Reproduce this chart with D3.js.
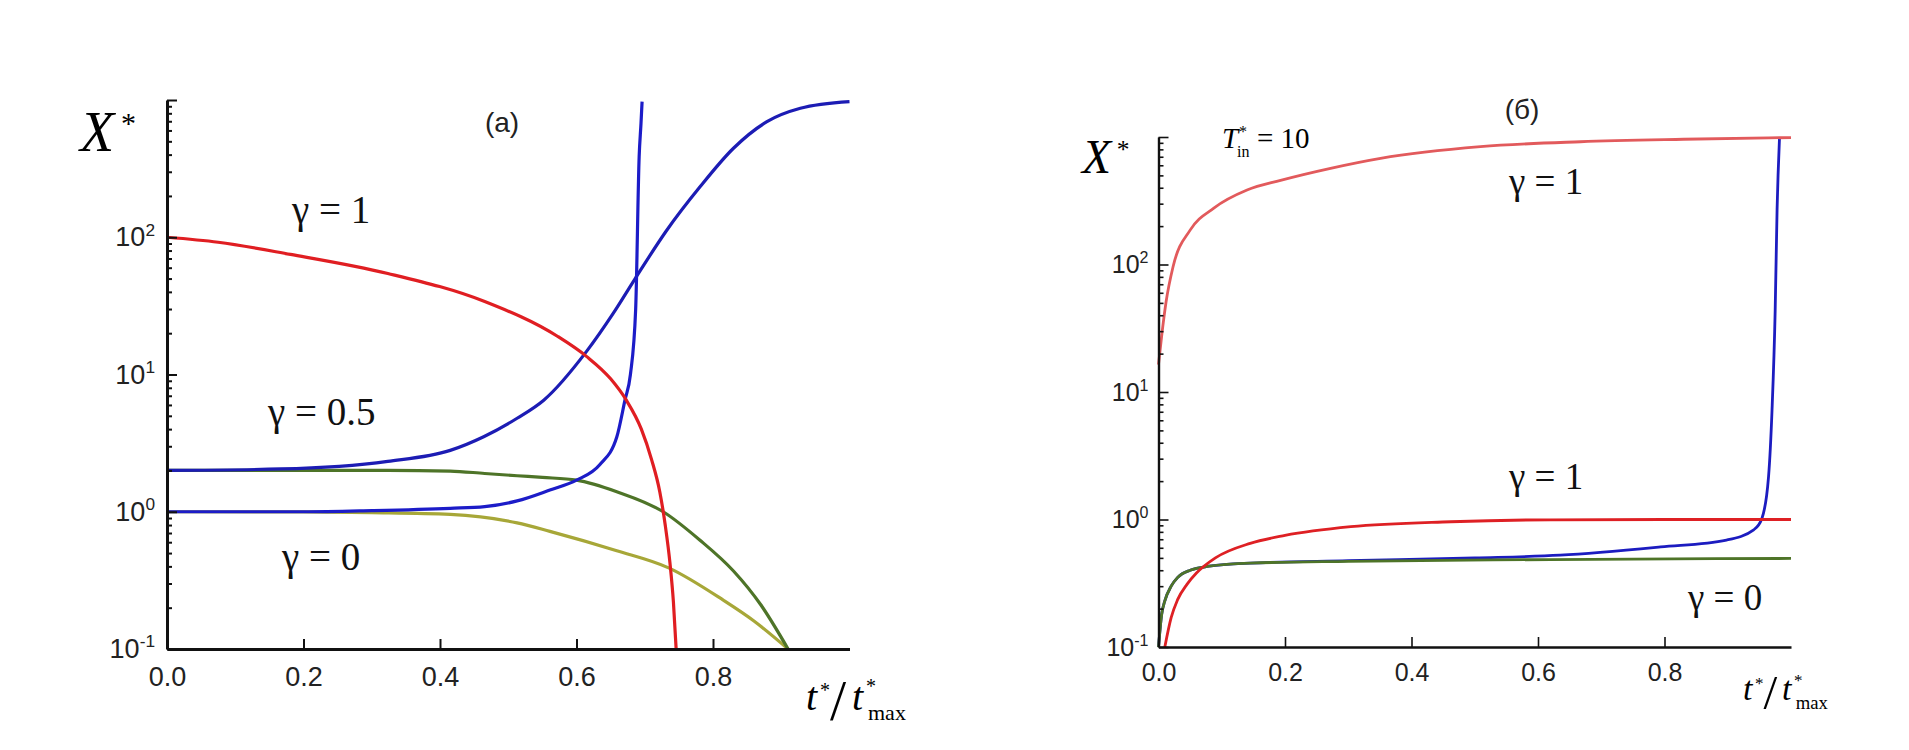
<!DOCTYPE html>
<html>
<head>
<meta charset="utf-8">
<script src="https://cdn.jsdelivr.net/npm/d3@7"></script>
<style>
  body { margin: 0; background: #fff; }
</style>
</head>
<body>
<div id="chart"></div>
<script>
// ---- data: t*/t*max and X* ----
// panel (a)
var tA_red = [0, 0.075, 0.181, 0.3235, 0.4655, 0.572, 0.615, 0.65, 0.673, 0.695, 0.71, 0.722, 0.73, 0.737, 0.742, 0.746];
var xA_red = [100, 92, 75, 54.5, 34, 19, 13.5, 9.3, 6.5, 4.0, 2.4, 1.4, 0.8, 0.42, 0.22, 0.1];

var tA_blueSteep = [0, 0.2, 0.3, 0.415, 0.4655, 0.513, 0.561, 0.6, 0.634, 0.659, 0.671, 0.679, 0.6867, 0.6918, 0.6945, 0.6961];
var xA_blueSteep = [1.0, 1.0, 1.02, 1.06, 1.09, 1.2, 1.44, 1.70, 2.2, 3.5, 6.5, 10, 30, 386, 676, 973];

var tA_blueS = [0, 0.167, 0.3235, 0.415, 0.464, 0.513, 0.552, 0.615, 0.654, 0.686, 0.732, 0.781, 0.83, 0.879, 0.928, 1.0];
var xA_blueS = [2.0, 2.05, 2.33, 2.8, 3.52, 4.8, 6.5, 14.8, 28, 50, 112, 233, 445, 695, 870, 973];

var tA_green = [0, 0.3235, 0.415, 0.4655, 0.513, 0.55, 0.6, 0.659, 0.727, 0.781, 0.83, 0.87, 0.91];
var xA_green = [2.0, 2.0, 1.98, 1.9, 1.83, 1.78, 1.70, 1.4, 1.0, 0.62, 0.37, 0.21, 0.1];

var tA_olive = [0, 0.2, 0.3, 0.415, 0.513, 0.561, 0.659, 0.735, 0.815, 0.86, 0.91];
var xA_olive = [1.0, 0.998, 0.985, 0.957, 0.83, 0.72, 0.52, 0.39, 0.227, 0.16, 0.1];

// panel (б)
var tB_redTop = [0, 0.005, 0.012, 0.023, 0.05, 0.0875, 0.14, 0.193, 0.272, 0.351, 0.509, 0.667, 0.83, 1.0];
var xB_redTop = [16.4, 27.5, 51, 96, 186, 277, 384, 457, 568, 680, 840, 918, 960, 990];

var tB_red = [0.01, 0.02, 0.03, 0.045, 0.06, 0.09, 0.145, 0.2, 0.304, 0.462, 0.62, 0.8, 1.0];
var xB_red = [0.1, 0.17, 0.234, 0.31, 0.38, 0.5, 0.65, 0.75, 0.878, 0.96, 0.995, 1.0, 1.0];

var tB_green = [0, 0.005, 0.01, 0.02, 0.03, 0.05, 0.08, 0.145, 0.3, 0.62, 1.0];
var xB_green = [0.1, 0.18, 0.23, 0.3, 0.35, 0.4, 0.43, 0.455, 0.47, 0.485, 0.495];

var tB_blue = [0, 0.005, 0.01, 0.02, 0.03, 0.05, 0.08, 0.145, 0.3, 0.5, 0.635, 0.794, 0.898, 0.941, 0.954, 0.9645, 0.97, 0.975, 0.978, 0.9818];
var xB_blue = [0.1, 0.18, 0.23, 0.3, 0.35, 0.4, 0.43, 0.455, 0.475, 0.5, 0.525, 0.61, 0.69, 0.83, 1.02, 2.17, 7.2, 44, 270, 980];

// ticks
var xTicks = [0, 0.2, 0.4, 0.6, 0.8];
var yMajor = [0.1, 1, 10, 100, 1000];
var yLabelled = [0.1, 1, 10, 100];
var yMinor = [];
[0.1, 1, 10, 100].forEach(function (d) {
    for (var k = 2; k <= 9; k++) yMinor.push(d * k);
});

var serif = "Liberation Serif, Times New Roman, serif";
var sans = "Liberation Sans, Arial, sans-serif";

function init() {

    var w = 1909;
    var h = 750;

    var svg = d3.select("#chart")
        .append("svg")
        .attr("width", w)
        .attr("height", h)
        .style("background", "#fff");

    function zip(t, v) {
        return t.map(function (d, i) { return [d, v[i]]; });
    }

    function drawPanel(p) {
        var x = d3.scaleLinear().domain([0, 1]).range([p.left, p.right]);
        var y = d3.scaleLog().domain([0.1, 1000]).range([p.bottom, p.top]);
        var g = svg.append("g");

        var line = d3.line()
            .x(function (d) { return x(d[0]); })
            .y(function (d) { return y(d[1]); })
            .curve(d3.curveMonotoneX);

        p.series.forEach(function (s) {
            g.append("path")
                .datum(zip(s.t, s.v))
                .attr("fill", "none")
                .attr("stroke", s.color)
                .attr("stroke-width", p.lw)
                .attr("stroke-linejoin", "round")
                .attr("d", line);
        });

        // minor ticks on the log axis
        var minor = g.append("g")
            .attr("transform", "translate(" + p.left + ",0)")
            .attr("color", "#111")
            .call(d3.axisLeft(y).tickValues(yMinor).tickSize(-5).tickFormat(""));
        minor.select(".domain").remove();
        minor.selectAll("line").attr("stroke-width", p.tw);

        // major ticks + labels
        var yAx = g.append("g")
            .attr("transform", "translate(" + p.left + ",0)")
            .attr("color", "#111")
            .call(d3.axisLeft(y).tickValues(yMajor).tickSizeInner(-10).tickSizeOuter(0)
                .tickPadding(p.yPad).tickFormat(function (d) { return d; }));
        yAx.select(".domain").attr("stroke-width", p.aw);
        yAx.selectAll("line").attr("stroke-width", p.tw);
        yAx.selectAll(".tick text").each(function (d) {
            var t = d3.select(this).text(null)
                .attr("font-family", sans)
                .attr("font-size", p.fs)
                .attr("fill", "#222");
            if (yLabelled.indexOf(d) < 0) return;
            var e = Math.round(Math.log10(d));
            t.append("tspan").text("10");
            t.append("tspan").attr("dy", -0.4 * p.fs).attr("font-size", p.fs * 0.64).text(e);
        });

        // x axis
        var xAx = g.append("g")
            .attr("transform", "translate(0," + p.bottom + ")")
            .attr("color", "#111")
            .call(d3.axisBottom(x).tickValues(xTicks).tickSizeInner(-10).tickSizeOuter(0)
                .tickPadding(p.xPad).tickFormat(d3.format(".1f")));
        xAx.select(".domain").attr("stroke-width", p.aw);
        xAx.selectAll("line").attr("stroke-width", p.tw);
        xAx.selectAll("text")
            .attr("font-family", sans)
            .attr("font-size", p.fs)
            .attr("fill", "#222");

        // axis titles
        var s = p.k;
        var yl = g.append("g").attr("transform", "translate(" + p.yLab[0] + "," + p.yLab[1] + ")");
        yl.append("text").attr("font-family", serif).attr("font-style", "italic")
            .attr("font-size", 56 * s).text("X");
        yl.append("text").attr("x", 41 * s).attr("y", -18 * s).attr("font-family", serif)
            .attr("font-size", 30 * s).text("*");

        var xl = g.append("g").attr("transform", "translate(" + p.xLab[0] + "," + p.xLab[1] + ")");
        xl.append("text").attr("font-family", serif).attr("font-style", "italic")
            .attr("font-size", 40 * s).text("t");
        xl.append("text").attr("x", 14 * s).attr("y", -13 * s).attr("font-family", serif)
            .attr("font-size", 20 * s).text("*");
        xl.append("text").attr("x", 24 * s).attr("y", 10 * s).attr("font-family", serif)
            .attr("font-size", 58 * s).text("/");
        xl.append("text").attr("x", 46 * s).attr("font-family", serif).attr("font-style", "italic")
            .attr("font-size", 40 * s).text("t");
        xl.append("text").attr("x", 60 * s).attr("y", -17 * s).attr("font-family", serif)
            .attr("font-size", 20 * s).text("*");
        xl.append("text").attr("x", 62 * s).attr("y", 10 * s).attr("font-family", serif)
            .attr("font-size", 22 * s).text("max");

        // panel letter
        g.append("text").attr("x", p.title[0]).attr("y", p.title[1])
            .attr("text-anchor", "middle").attr("font-family", sans)
            .attr("font-size", 28).attr("fill", "#222").text(p.title[2]);

        // curve labels
        p.labels.forEach(function (l) {
            g.append("text").attr("x", l[0]).attr("y", l[1])
                .style("font-family", serif).attr("font-size", p.gfs)
                .attr("fill", "#111").text(l[2]);
        });

        return g;
    }

    drawPanel({
        left: 167, right: 849.5, top: 100, bottom: 649,
        lw: 3.2, aw: 3, tw: 2, fs: 27, yPad: 12, xPad: 18, k: 1, gfs: 39,
        yLab: [80, 151], xLab: [806, 710], title: [502, 132, "(а)"],
        series: [
            { t: tA_olive, v: xA_olive, color: "#a7a738" },
            { t: tA_green, v: xA_green, color: "#4e7428" },
            { t: tA_blueS, v: xA_blueS, color: "#1c1cb4" },
            { t: tA_blueSteep, v: xA_blueSteep, color: "#1c1cc8" },
            { t: tA_red, v: xA_red, color: "#e01e22" }
        ],
        labels: [
            [292, 223, "γ = 1"],
            [268, 425, "γ = 0.5"],
            [282, 570, "γ = 0"]
        ]
    });

    var gB = drawPanel({
        left: 1158.5, right: 1791, top: 137, bottom: 647,
        lw: 2.8, aw: 2.4, tw: 1.6, fs: 25, yPad: 10, xPad: 16, k: 0.85, gfs: 37,
        yLab: [1082, 173], xLab: [1743, 700], title: [1522, 119, "(б)"],
        series: [
            { t: tB_blue, v: xB_blue, color: "#1c1cc0" },
            { t: tB_green, v: xB_green, color: "#4e7428" },
            { t: tB_red, v: xB_red, color: "#de2024" },
            { t: tB_redTop, v: xB_redTop, color: "#e25a5c" }
        ],
        labels: [
            [1509, 194, "γ = 1"],
            [1509, 489, "γ = 1"],
            [1688, 610, "γ = 0"]
        ]
    });

    // T*in = 10 note in panel (б)
    var tn = gB.append("g").attr("transform", "translate(1222,148)");
    tn.append("text").style("font-family", serif).attr("font-style", "italic")
        .attr("font-size", 29).text("T");
    tn.append("text").attr("x", 17).attr("y", -11).style("font-family", serif)
        .attr("font-size", 16).text("*");
    tn.append("text").attr("x", 15).attr("y", 9).style("font-family", serif)
        .attr("font-size", 16).text("in");
    tn.append("text").attr("x", 35).style("font-family", serif)
        .attr("font-size", 29).text("= 10");
}

window.onload = init;
</script>
</body>
</html>
